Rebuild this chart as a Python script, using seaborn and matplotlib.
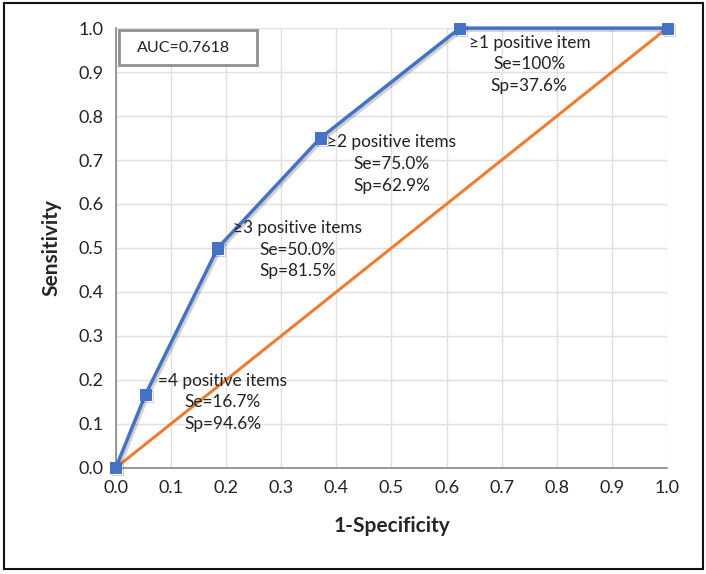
import matplotlib
matplotlib.use("Agg")
import matplotlib.pyplot as plt
import matplotlib.patheffects as pe
from matplotlib.patches import Rectangle
import seaborn as sns
import pandas as pd

# ROC points (1-specificity, sensitivity)
fpr = [0.0, 0.054, 0.185, 0.371, 0.624, 1.0]
tpr = [0.0, 0.167, 0.5, 0.75, 1.0, 1.0]
ref_x = [0.0, 1.0]
ref_y = [0.0, 1.0]

labels = [
    ["=4 positive items", "Se=16.7%", "Sp=94.6%"],
    ["\u22653 positive items", "Se=50.0%", "Sp=81.5%"],
    ["\u22652 positive items", "Se=75.0%", "Sp=62.9%"],
    ["\u22651 positive item", "Se=100%", "Sp=37.6%"],
]
label_x = [0.194, 0.33, 0.50, 0.75]
label_y = [0.198, 0.545, 0.740, 0.967]
auc_text = "AUC=0.7618"

sns.set_style("whitegrid")
plt.rcParams['font.family'] = ['Lato', 'DejaVu Sans']

blue = "#4472C4"
orange = "#ED7D31"

fig, ax = plt.subplots(figsize=(7.06, 5.74), dpi=100)
fig.subplots_adjust(left=0.164, right=0.945, top=0.951, bottom=0.185)

roc = pd.DataFrame({"x": fpr, "y": tpr})
ref = pd.DataFrame({"x": ref_x, "y": ref_y})

shadow = [pe.SimpleLineShadow(offset=(1.5, -1.5), alpha=0.18), pe.Normal()]

sns.lineplot(data=ref, x="x", y="y", ax=ax, color=orange, linewidth=2.2,
             sort=False, zorder=3)
sns.lineplot(data=roc, x="x", y="y", ax=ax, color=blue, linewidth=2.5,
             marker="s", markersize=8, markeredgecolor=blue, sort=False,
             zorder=4, path_effects=shadow)
for line in ax.lines:
    line.set_clip_on(False)

for lines, lx, ly in zip(labels, label_x, label_y):
    for i, t in enumerate(lines):
        ax.text(lx, ly - i * 0.049, t, ha="center", va="center",
                fontsize=12.4, color="#222222", zorder=5)

# AUC box
ax.add_patch(Rectangle((0.005, 0.916), 0.251, 0.079, transform=ax.transData,
                       facecolor="white", edgecolor="#909090", linewidth=2,
                       zorder=5))
ax.text(0.038, 0.9555, auc_text, ha="left", va="center", fontsize=11.5,
        color="#222222", zorder=6)

ax.set_xlim(0, 1)
ax.set_ylim(0, 1)
ax.set_xticks([i / 10 for i in range(11)])
ax.set_yticks([i / 10 for i in range(11)])
ax.set_xticklabels([f"{i / 10:.1f}" for i in range(11)])
ax.set_yticklabels([f"{i / 10:.1f}" for i in range(11)])
ax.tick_params(axis="both", labelsize=13, colors="#222222", length=5,
               width=1, direction="out", pad=4)
ax.tick_params(axis="both", color="#888888")
ax.grid(True, color="#e0e0e0", linewidth=1)

for s in ["top", "right"]:
    ax.spines[s].set_visible(False)
for s in ["left", "bottom"]:
    ax.spines[s].set_color("#888888")
    ax.spines[s].set_linewidth(1.2)

ax.set_xlabel("1-Specificity", fontsize=15, fontweight="bold", labelpad=14)
ax.set_ylabel("Sensitivity", fontsize=15, fontweight="bold", labelpad=12)

# outer frame around the whole figure
fig.patches.append(Rectangle((0.005, 0.008), 0.991, 0.986,
                             transform=fig.transFigure, fill=False,
                             edgecolor="#111111", linewidth=1.5))

fig.savefig("out.png", dpi=100)
